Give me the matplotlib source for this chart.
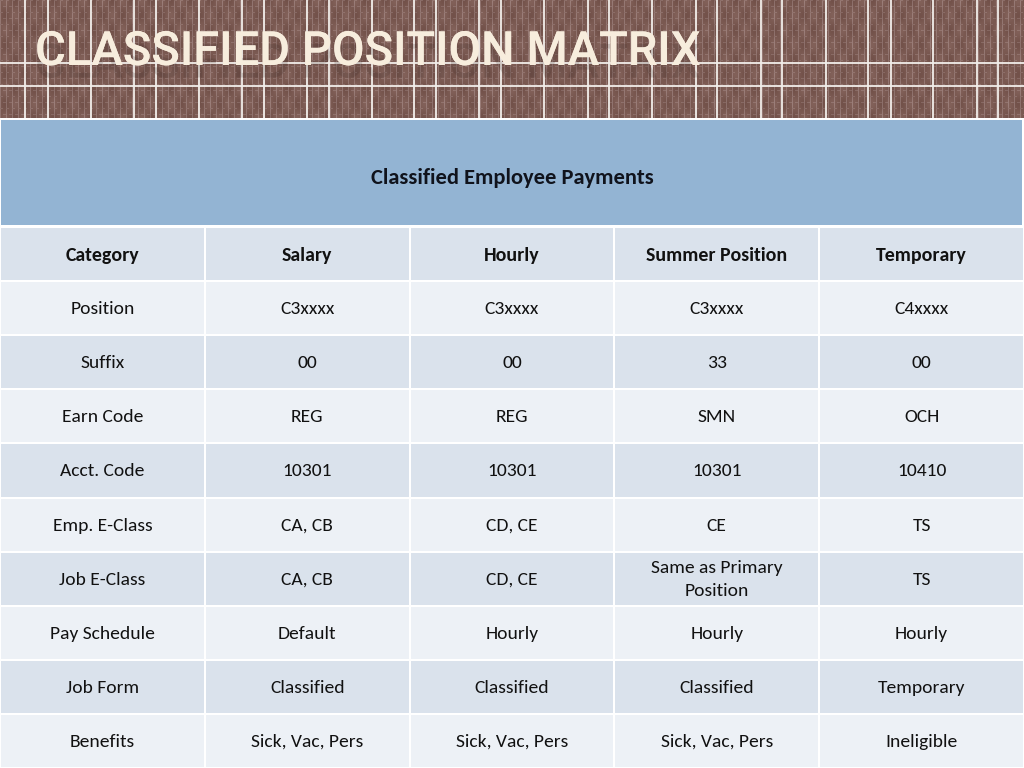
import numpy as np
import matplotlib
matplotlib.use("Agg")
import matplotlib.pyplot as plt
import matplotlib.patheffects as pe
from matplotlib.patches import Rectangle

# ---- data -------------------------------------------------------------
title = "CLASSIFIED POSITION MATRIX"
table_title = "Classified Employee Payments"
columns = ["Category", "Salary", "Hourly", "Summer Position", "Temporary"]
categories = ["Position", "Suffix", "Earn Code", "Acct. Code", "Emp. E-Class",
              "Job E-Class", "Pay Schedule", "Job Form", "Benefits"]
salary = ["C3xxxx", "00", "REG", "10301", "CA, CB", "CA, CB", "Default",
          "Classified", "Sick, Vac, Pers"]
hourly = ["C3xxxx", "00", "REG", "10301", "CD, CE", "CD, CE", "Hourly",
          "Classified", "Sick, Vac, Pers"]
summer = ["C3xxxx", "33", "SMN", "10301", "CE", "Same as Primary\nPosition",
          "Hourly", "Classified", "Sick, Vac, Pers"]
temporary = ["C4xxxx", "00", "OCH", "10410", "TS", "TS", "Hourly",
             "Temporary", "Ineligible"]

# white grid lines of the banner (pixel x positions)
banner_vlines = [25, 48, 91, 134, 156, 199, 242, 264, 307, 329, 372, 414, 436,
                 479, 501, 544, 588, 609, 652, 696, 717, 761, 782, 826, 868,
                 891, 933, 977, 998]
banner_hlines = [63, 86]

W, H = 1024, 768
BANNER_H = 118
BLUE_TOP, BLUE_BOT = 120, 225
ROW_TOP, ROW_H = 227, 54.1
COL_W = W / 5

title_font = ["Roboto", "DejaVu Sans"]
body_font = ["Carlito", "DejaVu Sans"]

fig = plt.figure(figsize=(10.24, 7.68), dpi=100)
ax = fig.add_axes([0, 0, 1, 1])
ax.set_xlim(0, W)
ax.set_ylim(H, 0)
ax.axis("off")
fig.patch.set_facecolor("white")

# ---- brick-like banner texture ----------------------------------------
xx = np.arange(W)
yy = np.arange(BANNER_H)
X, Y = np.meshgrid(xx, yy)
base = np.array([0.48, 0.35, 0.32])
light = np.array([0.66, 0.56, 0.55])
tex = np.ones((BANNER_H, W, 3)) * base
vmask = (X % 6 == 0)
hmask = ((Y % 6 == 0) & ((X + (Y // 6) * 3) % 6 < 3))
tex[vmask] = 0.55 * light + 0.45 * base
tex[hmask] = 0.4 * light + 0.6 * base
shade = 0.03 * np.sin(X / 3.1) * np.cos(Y / 4.7)
tex = np.clip(tex + shade[..., None], 0, 1)
ax.imshow(tex, extent=(0, W, BANNER_H, 0), aspect="auto", interpolation="bilinear",
          zorder=0)
ax.vlines(banner_vlines, 0, BANNER_H, colors="#f2eeea", linewidth=1.3, zorder=1)
ax.hlines(banner_hlines, 0, W, colors="#f2eeea", linewidth=1.3, zorder=1)

ax.text(35, 65, title, fontsize=34, family=title_font, weight=500,
        color="#f7eddd", va="baseline", ha="left", zorder=3,
        path_effects=[pe.withSimplePatchShadow(offset=(0, -9), shadow_rgbFace="#3a2a26",
                                               alpha=0.18), pe.Normal()])

# ---- table ---------------------------------------------------------------
ax.add_patch(Rectangle((1, BLUE_TOP), W - 3, BLUE_BOT - BLUE_TOP,
                       facecolor="#93b4d3", edgecolor="none", zorder=1))
ax.text(W / 2, (BLUE_TOP + BLUE_BOT) / 2 + 5, table_title, fontsize=16.2,
        family=body_font, weight="bold", color="#10131c", ha="center", va="center")

rows = [columns] + [list(r) for r in zip(categories, salary, hourly, summer, temporary)]
dark, pale = "#dae2ec", "#edf1f6"
for i, row in enumerate(rows):
    top = ROW_TOP + i * ROW_H
    color = dark if i % 2 == 0 else pale
    for j, cell in enumerate(row):
        left = j * COL_W
        ax.add_patch(Rectangle((left + 1, top + 1), COL_W - 2, ROW_H - 2,
                               facecolor=color, edgecolor="none", zorder=1))
        ax.text(left + COL_W / 2, top + ROW_H / 2 + 1, cell,
                fontsize=14.3 if i == 0 else 14,
                family=body_font, weight="bold" if i == 0 else "normal",
                color="#111111", ha="center", va="center", linespacing=1.5,
                zorder=2)

fig.savefig("out.png", dpi=100)
